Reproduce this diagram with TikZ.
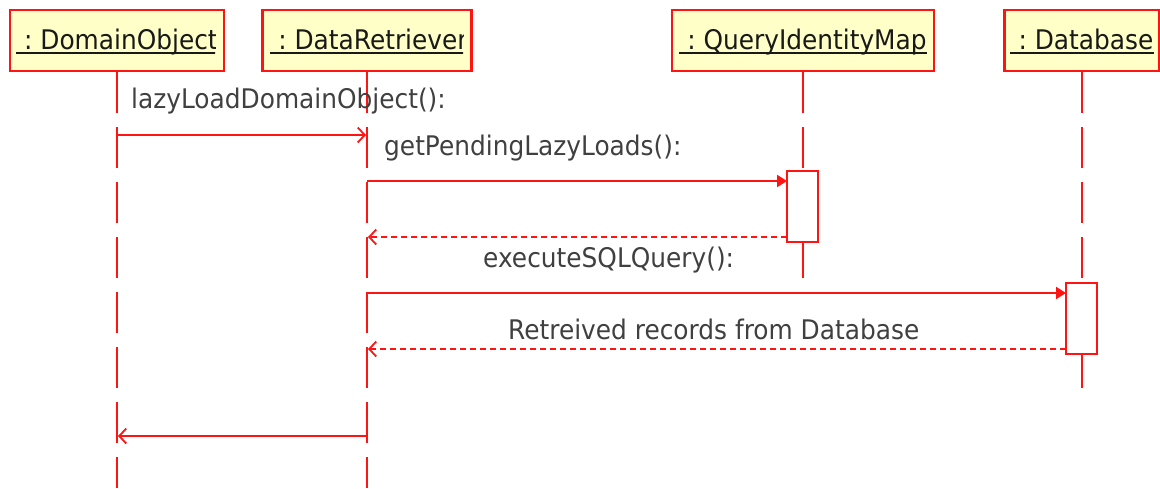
\documentclass[tikz,border=0pt]{standalone}
\usepackage{fontspec}
\newfontfamily\dvfont[FakeStretch=0.92]{DejaVu Sans}
\usetikzlibrary{arrows.meta}
\definecolor{lred}{RGB}{255,20,20}
\definecolor{lyel}{RGB}{255,255,200}
\definecolor{msgtxt}{RGB}{64,64,64}
\definecolor{hdrtxt}{RGB}{25,25,25}
\begin{document}
\begin{tikzpicture}[x=1pt,y=-1pt,
  objbox/.style={draw=lred,fill=lyel,line width=2.2pt,minimum height=61pt,inner sep=0pt},
  hdr/.style={anchor=base,inner sep=0pt,text=hdrtxt,font=\dvfont\fontsize{27}{32}\selectfont},
  uline/.style={draw=hdrtxt,line width=1.6pt},
  msglbl/.style={anchor=base west,inner sep=0pt,text=msgtxt,font=\dvfont\fontsize{27}{32}\selectfont},
  lifeline/.style={draw=lred,line width=2.2pt,dash pattern=on 41pt off 14pt},
  actbox/.style={draw=lred,fill=white,line width=2.2pt,minimum width=31pt,minimum height=71pt,inner sep=0pt},
  call/.style={draw=lred,line width=2.2pt,-{Triangle[length=10pt,width=12pt]}},
  sync/.style={draw=lred,line width=2.2pt,-{Straight Barb[length=7pt,width=15pt,line width=1.8pt]}},
  ret/.style={draw=lred,line width=2.2pt,dash pattern=on 6pt off 4pt,-{Straight Barb[length=7pt,width=15pt,line width=1.8pt]}},
  retsolid/.style={draw=lred,line width=2.2pt,-{Straight Barb[length=7pt,width=15pt,line width=1.8pt]}}]
\useasboundingbox (0,0) rectangle (1160,488);

% object boxes
\node[objbox,minimum width=214pt] (d) at (117,40.5) {};
\node[objbox,minimum width=209pt] (r) at (367,40.5) {};
\node[objbox,minimum width=262pt] (q) at (803,40.5) {};
\node[objbox,minimum width=155pt] (b) at (1082,40.5) {};

% lifeline ends
\coordinate (dend) at (117,488);
\coordinate (rend) at (367,488);
\coordinate (qend) at (803,278);
\coordinate (bend) at (1082,388);
\draw[lifeline] (d.south) -- (dend);
\draw[lifeline] (r.south) -- (rend);
\draw[lifeline] (q.south) -- (qend);
\draw[lifeline] (b.south) -- (bend);

% header texts
\begin{scope}
\clip (12,12) rectangle (215,69);
\node[hdr] (dt) at (117,49) {\ :\ DomainObject};
\draw[uline] ([yshift=-4pt]dt.base west) -- ([yshift=-4pt]dt.base east);
\end{scope}
\begin{scope}
\clip (264,12) rectangle (463,69);
\node[hdr] (rt) at (369,49) {\ :\ DataRetriever};
\draw[uline] ([yshift=-4pt]rt.base west) -- ([yshift=-4pt]rt.base east);
\end{scope}
\node[hdr] (qt) at (803,49) {\ :\ QueryIdentityMap};
\draw[uline] ([yshift=-4pt]qt.base west) -- ([yshift=-4pt]qt.base east);
\node[hdr] (bt) at (1082,49) {\ :\ Database};
\draw[uline] ([yshift=-4pt]bt.base west) -- ([yshift=-4pt]bt.base east);

% activation boxes
\node[actbox] (qa) at (802.5,206.5) {};
\node[actbox] (ba) at (1081.5,318.5) {};

% message endpoints
\coordinate (m1a) at (117,135);
\coordinate (m1b) at (366,135);
\coordinate (m2a) at (367,181);
\coordinate (m2b) at (787,181);
\coordinate (m3a) at (787,237);
\coordinate (m3b) at (368,237);
\coordinate (m4a) at (367,293);
\coordinate (m4b) at (1066,293);
\coordinate (m5a) at (1066,349);
\coordinate (m5b) at (368,349);
\coordinate (m6a) at (367,436);
\coordinate (m6b) at (118,436);

\draw[sync] (m1a) -- (m1b);
\draw[call] (m2a) -- (m2b);
\draw[ret] (m3a) -- (m3b);
\draw[call] (m4a) -- (m4b);
\draw[ret] (m5a) -- (m5b);
\draw[retsolid] (m6a) -- (m6b);

% message labels
\node[msglbl] (l1) at (131,108) {lazyLoadDomainObject():};
\node[msglbl] (l2) at (384,155) {getPendingLazyLoads():};
\node[msglbl] (l3) at (483,267) {executeSQLQuery():};
\node[msglbl] (l4) at (508,339) {Retreived records from Database};
\end{tikzpicture}
\end{document}
